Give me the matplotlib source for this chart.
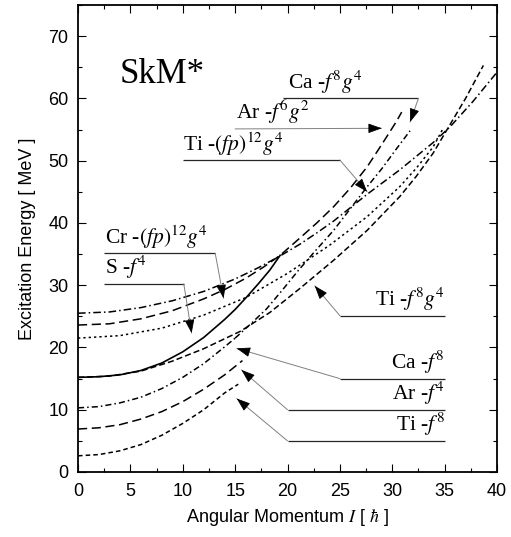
import matplotlib
matplotlib.use('Agg')
import matplotlib.pyplot as plt
import numpy as np
from matplotlib.ticker import MultipleLocator

plt.rcParams['mathtext.fontset'] = 'stix'
plt.rcParams['font.family'] = ['Liberation Sans', 'DejaVu Sans']

# ---------------- data ----------------
ti_f8_I = [0, 2, 4, 6, 8, 10, 12, 14, 15.3]
ti_f8_E = [2.6, 2.8, 3.4, 4.4, 5.9, 7.8, 10.0, 12.7, 14.1]

ar_f4_I = [0, 2, 4, 6, 8, 10, 12, 14, 15.7]
ar_f4_E = [6.9, 7.1, 7.6, 8.5, 9.7, 11.3, 13.3, 15.6, 17.9]

ca_f8_I = [0, 2, 4, 6, 8, 10, 12, 14, 15]
ca_f8_E = [10.3, 10.5, 11.1, 12.0, 13.4, 15.2, 17.4, 20.1, 21.5]

ca_f8g4_I = [15, 16.5, 18, 19.5, 21, 22.7, 24.4, 26, 27.6, 29, 30.4, 31.7]
ca_f8g4_E = [21.5, 23.8, 26.2, 29.2, 32.3, 35.6, 38.8, 42.3, 45.8, 48.7, 51.9, 54.8]

s_f4_I = [0, 2, 4, 6, 8, 10, 12, 14, 15, 16.1, 17.2, 18.3, 19.3]
s_f4_E = [15.2, 15.3, 15.6, 16.3, 17.5, 19.3, 21.6, 24.5, 26.1, 28.1, 30.2, 32.4, 34.8]

ti_f8g4_I = [0, 3, 6, 9, 12, 15.5, 18.3, 21.2, 24.4, 27.6, 30.7, 32.3, 33.9, 35.2, 37, 38.7]
ti_f8g4_E = [15.2, 15.4, 16.2, 17.8, 19.8, 22.6, 25.6, 29.5, 34.0, 38.8, 44.2, 47.5, 51.2, 54.9, 60.0, 65.3]

cr_fp12g4_I = [0, 4, 8, 12, 16, 20, 24, 27.6, 30.7, 32.3, 33.9, 34.8]
cr_fp12g4_E = [21.5, 21.9, 23.1, 25.2, 28.0, 31.9, 36.4, 41.0, 45.8, 48.8, 52.2, 55.0]

ar_f6g2_I = [0, 3, 6, 9, 12, 14, 16, 17.7, 19.3, 21.2, 22.8, 24.4, 26, 27.6, 29, 30.4, 30.9]
ar_f6g2_E = [23.6, 23.8, 24.6, 25.9, 27.8, 29.3, 31.1, 32.9, 34.8, 37.6, 40.0, 42.6, 45.6, 49.0, 52.6, 56.3, 57.8]

ti_fp12g4_I = [0, 3, 6, 9, 12, 15, 17.2, 19.3, 21.2, 22.8, 24.4, 27.6, 30.7, 33.9, 35.5, 37.7, 40]
ti_fp12g4_E = [25.5, 25.7, 26.4, 27.5, 29.0, 31.0, 32.8, 34.7, 36.6, 38.4, 40.3, 44.6, 48.5, 52.9, 55.4, 59.5, 64.2]

x_ticks = [0, 5, 10, 15, 20, 25, 30, 35, 40]
y_ticks = [0, 10, 20, 30, 40, 50, 60, 70]

band_labels = [r'Ca -$f^{8}g^{4}$', r'Ar -$f^{6}g^{2}$', r'Ti -$(fp)^{12}g^{4}$',
               r'Cr -$(fp)^{12}g^{4}$', r'S -$f^{4}$', r'Ti -$f^{8}g^{4}$',
               r'Ca -$f^{8}$', r'Ar -$f^{4}$', r'Ti -$f^{8}$']

# ---------------- figure ----------------
fig = plt.figure(figsize=(5.11, 5.37), dpi=100)
ax = fig.add_axes([78/511, 1 - 472/537, 419/511, 467/537])

lw = 1.1
k = 'black'
ax.plot(ti_f8_I, ti_f8_E, color=k, lw=lw, dashes=(3, 2))
ax.plot(ar_f4_I, ar_f4_E, color=k, lw=lw, dashes=(6, 3))
ax.plot(ca_f8_I, ca_f8_E, color=k, lw=lw, dashes=(4, 2, 1, 2))
ax.plot(ca_f8g4_I, ca_f8g4_E, color=k, lw=lw, dashes=(4, 2, 1, 2))
ax.plot(s_f4_I, s_f4_E, color=k, lw=1.2, ls='-')
ax.plot(ti_f8g4_I, ti_f8g4_E, color=k, lw=lw, dashes=(4, 2))
ax.plot(cr_fp12g4_I, cr_fp12g4_E, color=k, lw=lw, dashes=(1.5, 2))
ax.plot(ar_f6g2_I, ar_f6g2_E, color=k, lw=lw, dashes=(6, 3))
ax.plot(ti_fp12g4_I, ti_fp12g4_E, color=k, lw=lw, dashes=(5, 2, 1, 2))

ax.set_xlim(0, 40)
ax.set_ylim(0, 75)
ax.set_xticks(x_ticks)
ax.set_yticks(y_ticks)
ax.xaxis.set_minor_locator(MultipleLocator(2.5))
ax.yaxis.set_minor_locator(MultipleLocator(5))
ax.tick_params(which='both', direction='in', top=True, right=True, width=0.8)
ax.tick_params(which='major', length=6, labelsize=13)
ax.tick_params(axis='x', which='major', pad=8)
ax.tick_params(axis='y', which='major', pad=7)
ax.tick_params(which='minor', length=3)
for s in ax.spines.values():
    s.set_linewidth(1.3)

ax.set_xlabel(r'Angular Momentum $I$ [ $\hbar$ ]', fontsize=13, labelpad=5)
ax.set_ylabel('Excitation Energy [ MeV ]', fontsize=13, labelpad=9)

ax.text(4.0, 62.4, 'SkM*', family='Liberation Serif', fontsize=25, ha='left', va='baseline')

# label layout: (text_x, ha, line_y, line_x0, line_x1, tip)
layout = [
    (20.0, 'left', 60.0, 19.6, 32.5, (31.7, 56.2)),
    (15.1, 'left', 55.1, 15.0, 15.0, (29.0, 55.2)),
    (10.0, 'left', 50.1, 10.0, 25.0, (27.6, 45.0)),
    (2.6, 'left', 35.1, 2.5, 13.1, (13.9, 27.9)),
    (2.6, 'left', 30.2, 2.5, 10.1, (10.85, 22.3)),
    (35.0, 'right', 25.1, 25.0, 35.0, (22.6, 29.9)),
    (35.0, 'right', 15.0, 25.0, 35.0, (15.15, 19.85)),
    (35.0, 'right', 10.0, 20.0, 35.0, (15.6, 16.4)),
    (35.0, 'right', 5.0, 20.0, 35.0, (15.15, 11.8)),
]

fig.canvas.draw()
to_px = ax.transData
inv = ax.transData.inverted()
for txt, (tx, ha, ly, x0, x1, tip) in zip(band_labels, layout):
    ax.text(tx, ly + 0.4, txt, family='Liberation Serif', fontsize=15.5,
            ha=ha, va='bottom')
    if x1 > x0:
        ax.plot([x0, x1], [ly, ly], color='0.15', lw=0.9, solid_capstyle='butt')
    start = (x1, ly) if ha == 'left' else (x0, ly)
    ax.annotate('', xy=tip, xytext=start,
                arrowprops=dict(arrowstyle='-', color='0.5', lw=0.7,
                                shrinkA=0, shrinkB=0))
    p0 = np.array(to_px.transform(start))
    p1 = np.array(to_px.transform(tip))
    d = (p1 - p0) / np.linalg.norm(p1 - p0)
    hb = inv.transform(p1 - 9 * d)
    ax.annotate('', xy=tip, xytext=tuple(hb),
                arrowprops=dict(arrowstyle='-|>,head_length=0.7,head_width=0.25',
                                color='black', lw=0.6, mutation_scale=12,
                                shrinkA=0, shrinkB=0))

fig.savefig('out.png', dpi=100)
